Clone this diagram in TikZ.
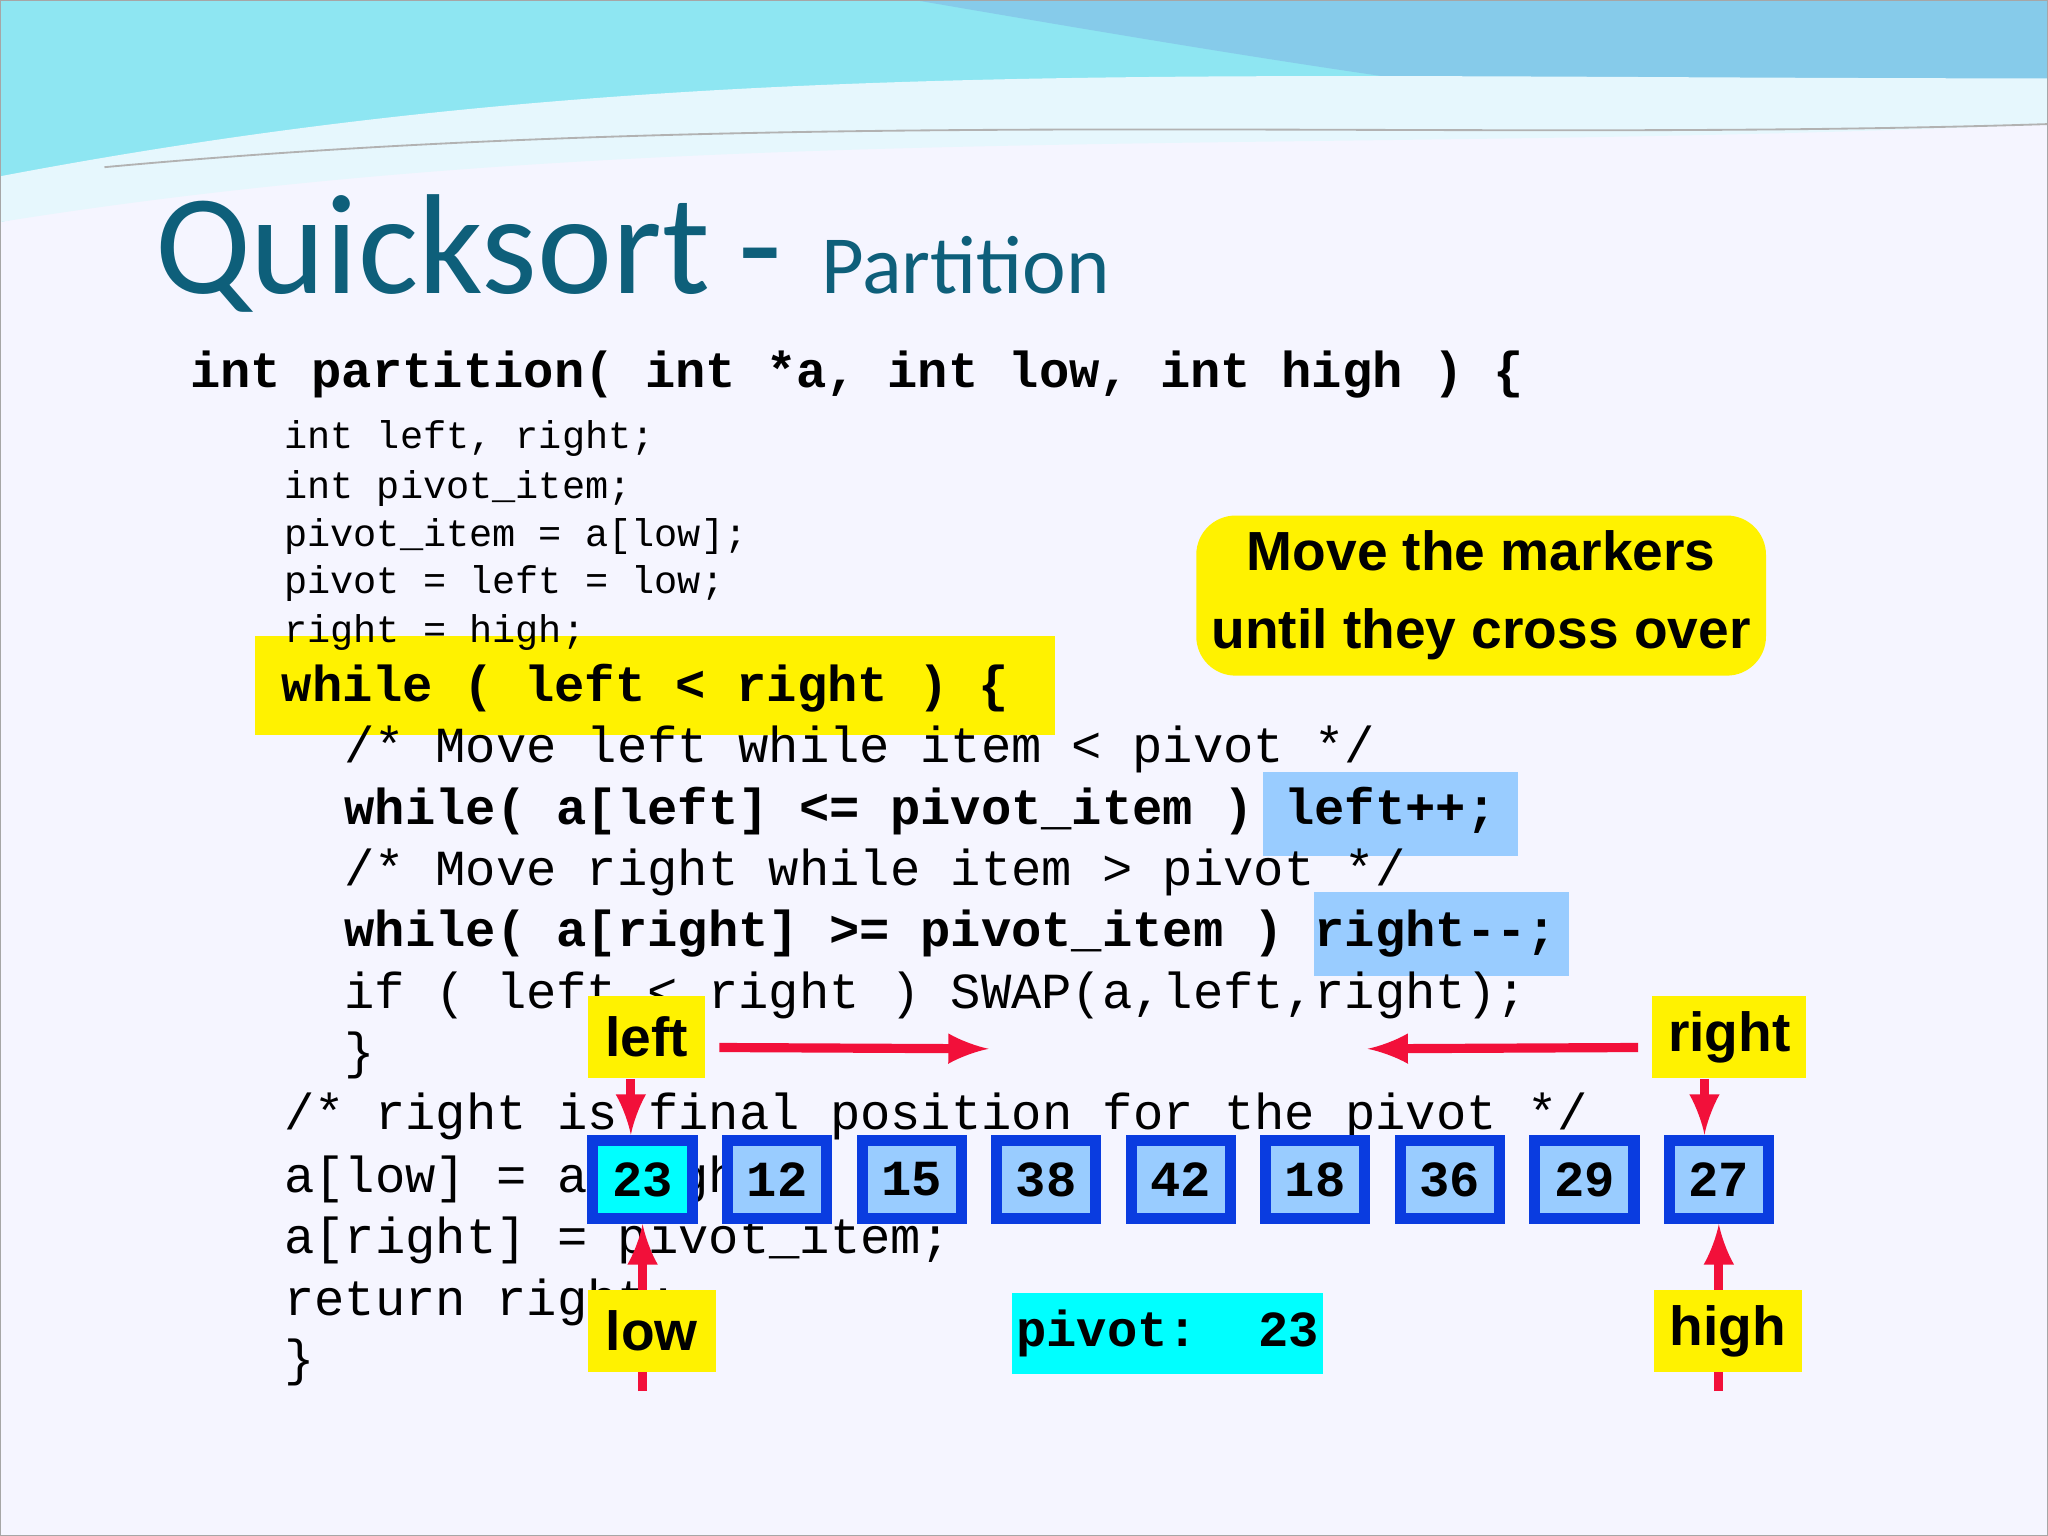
\documentclass[tikz,border=0pt]{standalone}
\usepackage{fontspec}
\setmainfont{Liberation Sans}
\newfontfamily\codefont{Liberation Mono}
\newfontfamily\titlefont{Carlito}
\usetikzlibrary{positioning}
\definecolor{titleblue}{HTML}{0E5F7A}
\definecolor{cellblue}{HTML}{99CCFF}
\definecolor{cellframe}{HTML}{0A3CE0}
\definecolor{hlblue}{HTML}{99CCFF}
\definecolor{pivotcyan}{HTML}{00FFFF}
\definecolor{markred}{HTML}{F2103A}
\definecolor{wavecyan}{HTML}{8EE6F2}
\definecolor{waveblue}{HTML}{86CBEA}
\tikzset{
  codesmall/.style={anchor=west,inner sep=0pt,font=\codefont\fontsize{8.4pt}{10pt}\selectfont},
  codeline/.style={anchor=west,inner sep=0pt,font=\codefont\fontsize{11pt}{13pt}\selectfont},
  codebold/.style={codeline,font=\codefont\bfseries\fontsize{11pt}{13pt}\selectfont},
  cell/.style={draw=cellframe,line width=2.4pt,fill=cellblue,minimum width=0.76cm,minimum height=0.6cm,inner sep=0pt,font=\codefont\bfseries\fontsize{11pt}{13pt}\selectfont},
  marker/.style={fill=yellow,inner sep=0pt,minimum height=0.63cm,font=\bfseries\fontsize{12pt}{14pt}\selectfont},
  redarrow/.style={->,>=latex,draw=markred,line width=2pt}
}
\begin{document}
\begin{tikzpicture}[x=0.01cm,y=-0.01cm]
\useasboundingbox (0,0) rectangle (1568,1176);
\fill[white!96!blue] (0,0) rectangle (1568,1176);
% top wave
\fill[wavecyan] (0,0) -- (1568,0) -- (1568,40) .. controls (1200,110) and (700,20) .. (0,170) -- cycle;
\fill[waveblue] (700,0) -- (1568,0) -- (1568,90) .. controls (1350,110) and (1050,60) .. (700,0) -- cycle;
\fill[white!90!cyan] (0,135) .. controls (500,40) and (900,60) .. (1568,60) -- (1568,95) .. controls (1000,120) and (500,90) .. (0,170) -- cycle;
\draw[gray!60] (80,128) .. controls (600,80) and (1100,110) .. (1568,95);
\draw[gray!70] (0,0) rectangle (1568,1176);
% title
\node[anchor=base west,inner sep=0pt,text=titleblue,font=\titlefont\fontsize{31pt}{36pt}\selectfont] (title) at (118,225) {Quicksort};
\node[anchor=base west,inner sep=0pt,text=titleblue,font=\titlefont\fontsize{31pt}{36pt}\selectfont] (dash) at (565,225) {-};
\node[anchor=base west,inner sep=0pt,text=titleblue,font=\titlefont\fontsize{18pt}{22pt}\selectfont] (subtitle) at (628,225) {Partition};
% highlights
\fill[yellow] (195,487) rectangle (808,563);
\fill[hlblue] (967,591) rectangle (1162,655);
\fill[hlblue] (1006,683) rectangle (1201,747);
% code
\node[codebold] (l0) at (145,287) {int partition( int *a, int low, int high ) \{};
\node[codesmall] (l1) at (217,336) {int left, right;};
\node[codesmall] (l2) at (217,374) {int pivot\_item;};
\node[codesmall] (l3) at (217,411) {pivot\_item = a[low];};
\node[codesmall] (l4) at (217,447) {pivot = left = low;};
\node[codesmall] (l5) at (217,484) {right = high;};
\node[codebold] (l6) at (215,527) {while ( left < right ) \{};
\node[codeline] (l7) at (263,574) {/* Move left while item < pivot */};
\node[codebold] (l8) at (263,621) {while( a[left] <= pivot\_item ) left++;};
\node[codeline] (l9) at (263,668) {/* Move right while item > pivot */};
\node[codebold] (l10) at (263,715) {while( a[right] >= pivot\_item ) right{-}{-};};
\node[codeline] (l11) at (263,762) {if ( left < right ) SWAP(a,left,right);};
\node[codeline] (l12) at (263,808) {\}};
\node[codeline] (l13) at (217,855) {/* right is final position for the pivot */};
\node[codeline] (l14) at (217,903) {a[low] = a[high];};
\node[codeline] (l15) at (217,950) {a[right] = pivot\_item;};
\node[codeline] (l16) at (217,997) {return right;};
\node[codeline] (l17) at (217,1043) {\}};
% note
\node[fill=yellow,rounded corners=0.3cm,minimum width=4.24cm,minimum height=1.21cm,align=center,font=\bfseries\fontsize{12pt}{17pt}\selectfont] (note) at (1134,456) {Move the markers\\until they cross over};
% cells
\foreach \v [count=\i] in {23,12,15,38,42,18,36,29,27}
  \node[cell] (c\i) at ({389+103*\i},903) {\v};
\node[cell,fill=pivotcyan] at (c1) {23};
% arrows
\coordinate (lowend) at (492,1065);
\coordinate (highend) at (1316,1065);
\coordinate (lgo) at (757,803);
\coordinate (rgo) at (1047,803);
\draw[redarrow] (lowend) -- (c1.south -| lowend);
\draw[redarrow] (highend) -- (c9.south -| highend);
% markers
\node[marker,minimum width=0.90cm] (left) at (495,794) {left};
\node[marker,minimum width=1.18cm] (right) at (1324,794) {right};
\node[marker,minimum width=0.98cm] (low) at (499,1019) {low};
\node[marker,minimum width=1.13cm] (high) at (1323,1019) {high};
\node[fill=pivotcyan,minimum width=2.38cm,minimum height=0.62cm,inner sep=0pt,font=\codefont\bfseries\fontsize{11pt}{13pt}\selectfont] (pivot) at (894,1021) {pivot:\ \ 23};
\draw[redarrow] (483,826) -- (c1.north -| 483,0);
\draw[redarrow] (1305,826) -- (c9.north -| 1305,0);
\draw[redarrow] (left.east) ++(10,8) -- (lgo);
\draw[redarrow] (right.west) ++(-10,8) -- (rgo);
\end{tikzpicture}
\end{document}
